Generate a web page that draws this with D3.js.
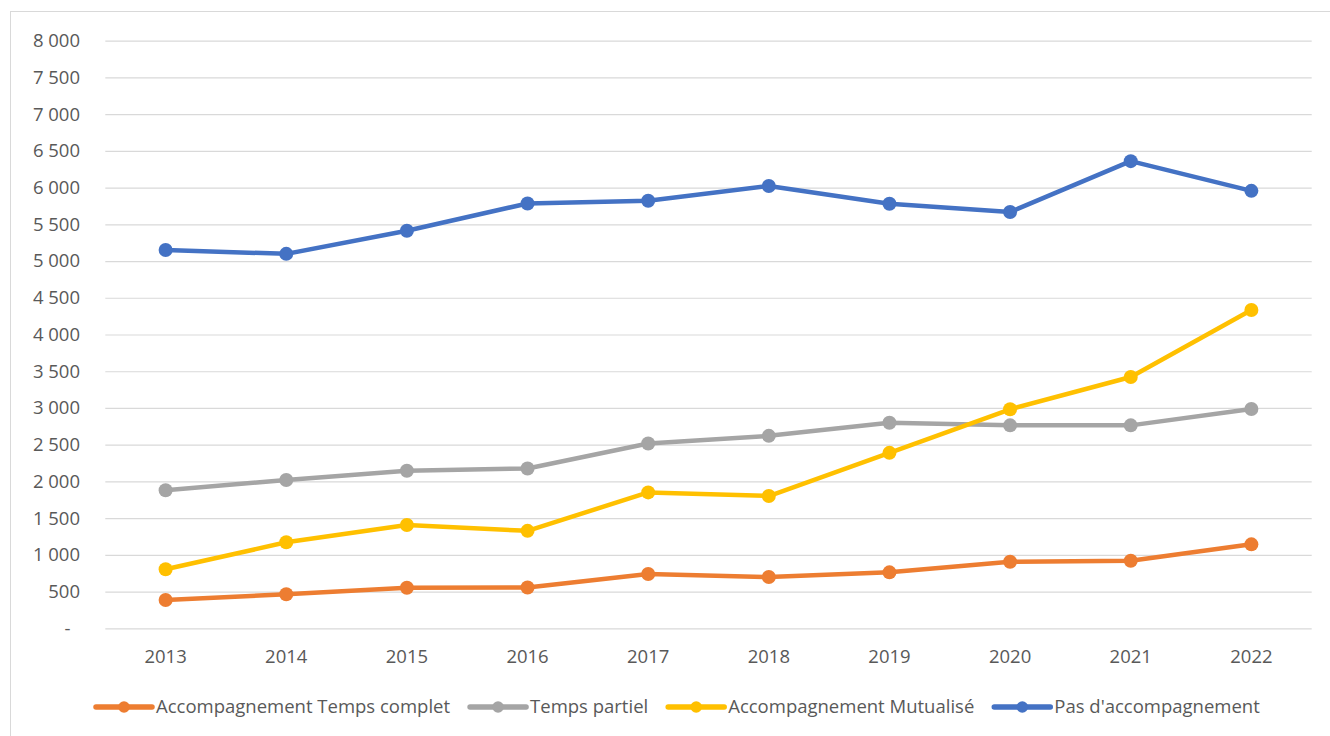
<!DOCTYPE html>
<html>
<head>
<meta charset="utf-8">
<script src="https://cdn.jsdelivr.net/npm/d3@7"></script>
<style>
  html, body { margin: 0; padding: 0; background: #fff; }
  svg { display: block; }
  text { font-family: "Open Sans", sans-serif; fill: #595959; }
</style>
</head>
<body>
<svg id="chart" width="1330" height="736"></svg>
<script>
const years = ["2013","2014","2015","2016","2017","2018","2019","2020","2021","2022"];
const tempsComplet = [385, 463, 553, 555, 739, 698, 762, 907, 920, 1143];
const tempsPartiel = [1879, 2019, 2146, 2176, 2517, 2620, 2799, 2763, 2763, 2986];
const mutualise = [803, 1171, 1406, 1327, 1850, 1801, 2389, 2982, 3421, 4333];
const pasAccomp = [5150, 5098, 5413, 5784, 5820, 6022, 5780, 5668, 6360, 5956];
const seriesNames = ["Accompagnement Temps complet", "Temps partiel", "Accompagnement Mutualisé", "Pas d'accompagnement"];
const yTickValues = [0, 500, 1000, 1500, 2000, 2500, 3000, 3500, 4000, 4500, 5000, 5500, 6000, 6500, 7000, 7500, 8000];
const yTickLabels = ["-\u00a0\u00a0", "500", "1 000", "1 500", "2 000", "2 500", "3 000", "3 500", "4 000", "4 500", "5 000", "5 500", "6 000", "6 500", "7 000", "7 500", "8 000"];

const colors = ["#ED7D31", "#A5A5A5", "#FFC000", "#4472C4"];
const seriesValues = [tempsComplet, tempsPartiel, mutualise, pasAccomp];

const svg = d3.select("#chart");
const W = 1330, H = 736;
const plot = { left: 105.3, right: 1311.7, top: 40.7, bottom: 628.3 };

// chart border (partially off-canvas like the reference)
svg.append("rect")
  .attr("x", 10.5).attr("y", 11.5)
  .attr("width", W + 20).attr("height", H + 20)
  .attr("fill", "none").attr("stroke", "#d9d9d9").attr("stroke-width", 1);

const x = d3.scaleBand().domain(years).range([plot.left, plot.right]).padding(0);
const y = d3.scaleLinear().domain([0, 8000]).range([plot.bottom, plot.top]);

// gridlines
const grid = svg.append("g")
  .attr("transform", `translate(${plot.left},0)`)
  .call(d3.axisLeft(y).tickValues(yTickValues).tickSize(-(plot.right - plot.left)).tickFormat(""));
grid.select(".domain").remove();
grid.selectAll("line").attr("stroke", "#d9d9d9").attr("stroke-width", 1.2);

// y axis labels
const yAxis = svg.append("g")
  .attr("transform", `translate(80,0)`)
  .call(d3.axisLeft(y).tickValues(yTickValues).tickSize(0).tickPadding(0)
    .tickFormat((d, i) => yTickLabels[i]));
yAxis.select(".domain").remove();
yAxis.selectAll("text")
  .style("font-family", "'Open Sans', sans-serif")
  .style("font-size", "18.5px")
  .attr("fill", "#595959");

// x axis labels
const xAxis = svg.append("g")
  .attr("transform", `translate(0,${plot.bottom})`)
  .call(d3.axisBottom(x).tickSize(0).tickPadding(0));
xAxis.select(".domain").remove();
xAxis.selectAll("text")
  .attr("dy", null)
  .attr("y", 34.5)
  .style("font-family", "'Open Sans', sans-serif")
  .style("font-size", "18.5px")
  .attr("fill", "#595959");

// lines + markers
const line = d3.line()
  .x((d, i) => x(years[i]) + x.bandwidth() / 2)
  .y(d => y(d));

seriesValues.forEach((vals, s) => {
  const g = svg.append("g");
  g.append("path")
    .datum(vals)
    .attr("d", line)
    .attr("fill", "none")
    .attr("stroke", colors[s])
    .attr("stroke-width", 4.5)
    .attr("stroke-linejoin", "round")
    .attr("stroke-linecap", "round");
  g.selectAll("circle")
    .data(vals)
    .join("circle")
    .attr("cx", (d, i) => x(years[i]) + x.bandwidth() / 2)
    .attr("cy", d => y(d))
    .attr("r", 7)
    .attr("fill", colors[s]);
});

// legend
const legend = svg.append("g");
let lx = 96;
const ly = 707;
seriesNames.forEach((name, s) => {
  const g = legend.append("g");
  g.append("line")
    .attr("x1", lx).attr("x2", lx + 56)
    .attr("y1", ly).attr("y2", ly)
    .attr("stroke", colors[s]).attr("stroke-width", 5.5)
    .attr("stroke-linecap", "round");
  g.append("circle")
    .attr("cx", lx + 28).attr("cy", ly).attr("r", 5.8)
    .attr("fill", colors[s]);
  const t = g.append("text")
    .attr("x", lx + 60).attr("y", ly + 6)
    .style("font-size", "18.5px")
    .text(name);
  const w = t.node().getComputedTextLength();
  lx = lx + 60 + w + 20;
});
</script>
</body>
</html>
